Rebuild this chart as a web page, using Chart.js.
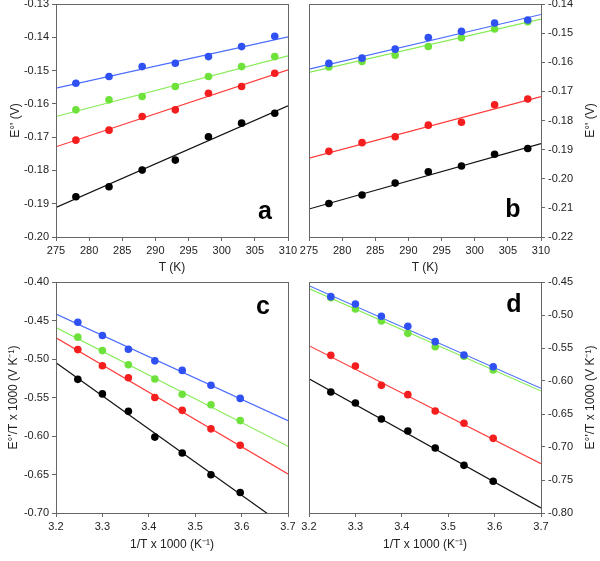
<!DOCTYPE html>
<html><head><meta charset="utf-8">
<script src="https://cdn.jsdelivr.net/npm/chart.js@4"></script>
<style>
html,body{margin:0;padding:0;background:#fff;}
#wrap{position:relative;width:600px;height:561px;overflow:hidden;}
canvas{position:absolute;left:0;top:0;}
</style></head><body>
<div id="wrap">
<canvas id="ca" width="600" height="561"></canvas>
<canvas id="cb" width="600" height="561"></canvas>
<canvas id="cc" width="600" height="561"></canvas>
<canvas id="cd" width="600" height="561"></canvas>
</div>
<script>
// ---- data ----
const tempK = [278, 283, 288, 293, 298, 303, 308];
const invT = [3.247, 3.300, 3.356, 3.413, 3.472, 3.534, 3.597];

// panel a : E°' vs T
const aBlue  = [-0.1538, -0.1518, -0.1488, -0.1478, -0.1458, -0.1428, -0.1397];
const aGreen = [-0.1618, -0.1588, -0.1578, -0.1548, -0.1518, -0.1488, -0.1458];
const aRed   = [-0.1709, -0.1679, -0.1638, -0.1618, -0.1568, -0.1548, -0.1508];
const aBlack = [-0.1879, -0.1849, -0.1799, -0.1769, -0.1699, -0.1658, -0.1628];
const aFitX = [275, 310];
const aFitBlue  = [-0.1553, -0.1399];
const aFitGreen = [-0.1638, -0.1456];
const aFitRed   = [-0.1729, -0.1498];
const aFitBlack = [-0.1911, -0.1606];

// panel b : E°' vs T
const bBlue  = [-0.1604, -0.1586, -0.1555, -0.1515, -0.1494, -0.1465, -0.1455];
const bGreen = [-0.1616, -0.1597, -0.1576, -0.1546, -0.1516, -0.1486, -0.1461];
const bRed   = [-0.1906, -0.1876, -0.1856, -0.1816, -0.1806, -0.1746, -0.1726];
const bBlack = [-0.2085, -0.2056, -0.2015, -0.1976, -0.1956, -0.1916, -0.1896];
const bFitX = [275, 310];
const bFitBlue  = [-0.1624, -0.1436];
const bFitGreen = [-0.1635, -0.1452];
const bFitRed   = [-0.1929, -0.1718];
const bFitBlack = [-0.2104, -0.1879];

// panel c : E°'/T x 1000 vs 1/T x 1000
const cBlue  = [-0.4523, -0.4694, -0.4874, -0.5024, -0.5148, -0.5341, -0.5512];
const cGreen = [-0.4716, -0.4891, -0.5075, -0.5260, -0.5457, -0.5594, -0.5800];
const cRed   = [-0.4878, -0.5088, -0.5243, -0.5500, -0.5667, -0.5907, -0.6121];
const cBlack = [-0.5264, -0.5453, -0.5680, -0.6014, -0.6220, -0.6503, -0.6734];
const cFitX = [3.2, 3.7];
const cFitBlue  = [-0.4416, -0.5800];
const cFitGreen = [-0.4591, -0.6134];
const cFitRed   = [-0.4724, -0.6494];
const cFitBlack = [-0.5050, -0.7198];

// panel d : E°'/T x 1000 vs 1/T x 1000
const dBlue  = [-0.4722, -0.4833, -0.5020, -0.5172, -0.5404, -0.5606, -0.5783];
const dGreen = [-0.4737, -0.4909, -0.5091, -0.5278, -0.5480, -0.5626, -0.5833];
const dRed   = [-0.5611, -0.5773, -0.6066, -0.6207, -0.6455, -0.6641, -0.6869];
const dBlack = [-0.6167, -0.6333, -0.6576, -0.6758, -0.7015, -0.7278, -0.7520];
const dFitX = [3.2, 3.7];
const dFitBlue  = [-0.4556, -0.6111];
const dFitGreen = [-0.4601, -0.6152];
const dFitRed   = [-0.5465, -0.7253];
const dFitBlack = [-0.5965, -0.7924];

const yTitleT = "E°' (V)";
const yTitleInv = "E°'/T x 1000 (V K⁻¹)";
const xTitleT = "T (K)";
const xTitleInv = "1/T x 1000 (K⁻¹)";

// ---- styles ----
const FONT = "'Liberation Sans', Arial, Helvetica, sans-serif";
const AXIS = '#666666';
const TXT = '#222222';
const COLORS = {
  blue:  {pt: '#2f50f2', ln: '#4a6cff'},
  green: {pt: '#6ee23a', ln: '#86ec55'},
  red:   {pt: '#f41e1e', ln: '#ff3a3a'},
  black: {pt: '#000000', ln: '#111111'}
};

function pts(xs, ys) { return xs.map((x, i) => ({x: x, y: ys[i]})); }

function buildDatasets(xs, series, fitX, fits) {
  const names = ['blue', 'green', 'red', 'black'];
  const ds = [];
  names.forEach((n, i) => {
    ds.push({data: pts(xs, series[i]), showLine: false, pointRadius: 3.8,
      pointBackgroundColor: COLORS[n].pt, pointBorderWidth: 0, order: 1});
  });
  names.forEach((n, i) => {
    ds.push({data: pts(fitX, fits[i]), showLine: true, pointRadius: 0,
      borderColor: COLORS[n].ln, borderWidth: 1.2, order: 2});
  });
  return ds;
}

const decor = {
  id: 'decor',
  afterDraw(chart, args, o) {
    const {ctx, chartArea: a} = chart;
    ctx.save();
    ctx.strokeStyle = AXIS; ctx.lineWidth = 1;
    ctx.strokeRect(Math.round(a.left) + 0.5, Math.round(a.top) + 0.5,
      Math.round(a.right - a.left), Math.round(a.bottom - a.top));
    ctx.fillStyle = '#000';
    ctx.font = "bold 25px " + FONT;
    ctx.textAlign = 'center'; ctx.textBaseline = 'middle';
    const ly = o.letterFromTop ? a.top + o.letterDy : a.bottom - o.letterDy;
    ctx.fillText(o.letter, a.right - o.letterDx, ly);
    if (o.rightTitle) {
      ctx.translate(o.rightTitleX, (a.top + a.bottom) / 2);
      ctx.rotate(-Math.PI / 2);
      ctx.font = "12px " + FONT;
      ctx.fillStyle = TXT;
      ctx.fillText(o.rightTitle, 0, 0);
    }
    ctx.restore();
  }
};

function zeroPad(s) { s.paddingLeft = 0; s.paddingRight = 0; s.paddingTop = 0; s.paddingBottom = 0; }

function makeChart(id, c) {
  new Chart(document.getElementById(id), {
    type: 'scatter',
    data: {datasets: c.datasets},
    options: {
      responsive: false, animation: false, devicePixelRatio: 1,
      layout: {padding: c.pad},
      plugins: {legend: {display: false}, tooltip: {enabled: false},
        decor: c.decor},
      scales: {
        x: {
          type: 'linear', min: c.xMin, max: c.xMax,
          ticks: {stepSize: c.xStep, color: TXT, font: {family: FONT, size: 11}, padding: 3,
            maxRotation: 0, autoSkip: false,
            callback: v => v.toFixed(c.xDec)},
          grid: {drawOnChartArea: false, tickLength: 4, color: AXIS},
          border: {color: AXIS},
          title: {display: true, text: c.xTitle, color: TXT, font: {family: FONT, size: 12},
            padding: {top: 0, bottom: c.xTitlePad}},
          afterFit: s => { s.height = c.xHeight; zeroPad(s); }
        },
        y: {
          type: 'linear', position: c.yPos, min: c.yMin, max: c.yMax,
          ticks: {stepSize: c.yStep, color: TXT, font: {family: FONT, size: 11}, padding: 3,
            autoSkip: false, callback: v => v.toFixed(2)},
          grid: {drawOnChartArea: false, tickLength: 4, color: AXIS},
          border: {color: AXIS},
          title: {display: c.yPos === 'left', text: c.yTitle, color: TXT,
            font: {family: FONT, size: 12}, padding: {top: c.yTitlePad, bottom: 0}},
          afterFit: s => { s.width = c.yWidth; zeroPad(s); }
        }
      }
    },
    plugins: [decor]
  });
}

makeChart('ca', {
  datasets: buildDatasets(tempK, [aBlue, aGreen, aRed, aBlack], aFitX, [aFitBlue, aFitGreen, aFitRed, aFitBlack]),
  pad: {left: 0, right: 312, top: 4, bottom: 281},
  xMin: 275, xMax: 310, xStep: 5, xDec: 0, xTitle: xTitleT, xHeight: 43, xTitlePad: 5,
  yPos: 'left', yMin: -0.20, yMax: -0.13, yStep: 0.01, yTitle: yTitleT, yWidth: 56, yTitlePad: 8,
  decor: {letter: 'a', letterDx: 23, letterDy: 25}
});
makeChart('cb', {
  datasets: buildDatasets(tempK, [bBlue, bGreen, bRed, bBlack], bFitX, [bFitBlue, bFitGreen, bFitRed, bFitBlack]),
  pad: {left: 309, right: 0, top: 4, bottom: 281},
  xMin: 275, xMax: 310, xStep: 5, xDec: 0, xTitle: xTitleT, xHeight: 43, xTitlePad: 5,
  yPos: 'right', yMin: -0.22, yMax: -0.14, yStep: 0.01, yTitle: yTitleT, yWidth: 59, yTitlePad: 0,
  decor: {letter: 'b', letterDx: 28, letterDy: 27, rightTitle: yTitleT, rightTitleX: 591}
});
makeChart('cc', {
  datasets: buildDatasets(invT, [cBlue, cGreen, cRed, cBlack], cFitX, [cFitBlue, cFitGreen, cFitRed, cFitBlack]),
  pad: {left: 0, right: 312, top: 282, bottom: 0},
  xMin: 3.2, xMax: 3.7, xStep: 0.1, xDec: 1, xTitle: xTitleInv, xHeight: 48, xTitlePad: 9,
  yPos: 'left', yMin: -0.70, yMax: -0.40, yStep: 0.05, yTitle: yTitleInv, yWidth: 56, yTitlePad: 6,
  decor: {letter: 'c', letterDx: 25, letterDy: 25, letterFromTop: true}
});
makeChart('cd', {
  datasets: buildDatasets(invT, [dBlue, dGreen, dRed, dBlack], dFitX, [dFitBlue, dFitGreen, dFitRed, dFitBlack]),
  pad: {left: 309, right: 0, top: 282, bottom: 0},
  xMin: 3.2, xMax: 3.7, xStep: 0.1, xDec: 1, xTitle: xTitleInv, xHeight: 48, xTitlePad: 9,
  yPos: 'right', yMin: -0.80, yMax: -0.45, yStep: 0.05, yTitle: yTitleInv, yWidth: 59, yTitlePad: 0,
  decor: {letter: 'd', letterDx: 27, letterDy: 23, letterFromTop: true, rightTitle: yTitleInv, rightTitleX: 591}
});
</script>
</body></html>
